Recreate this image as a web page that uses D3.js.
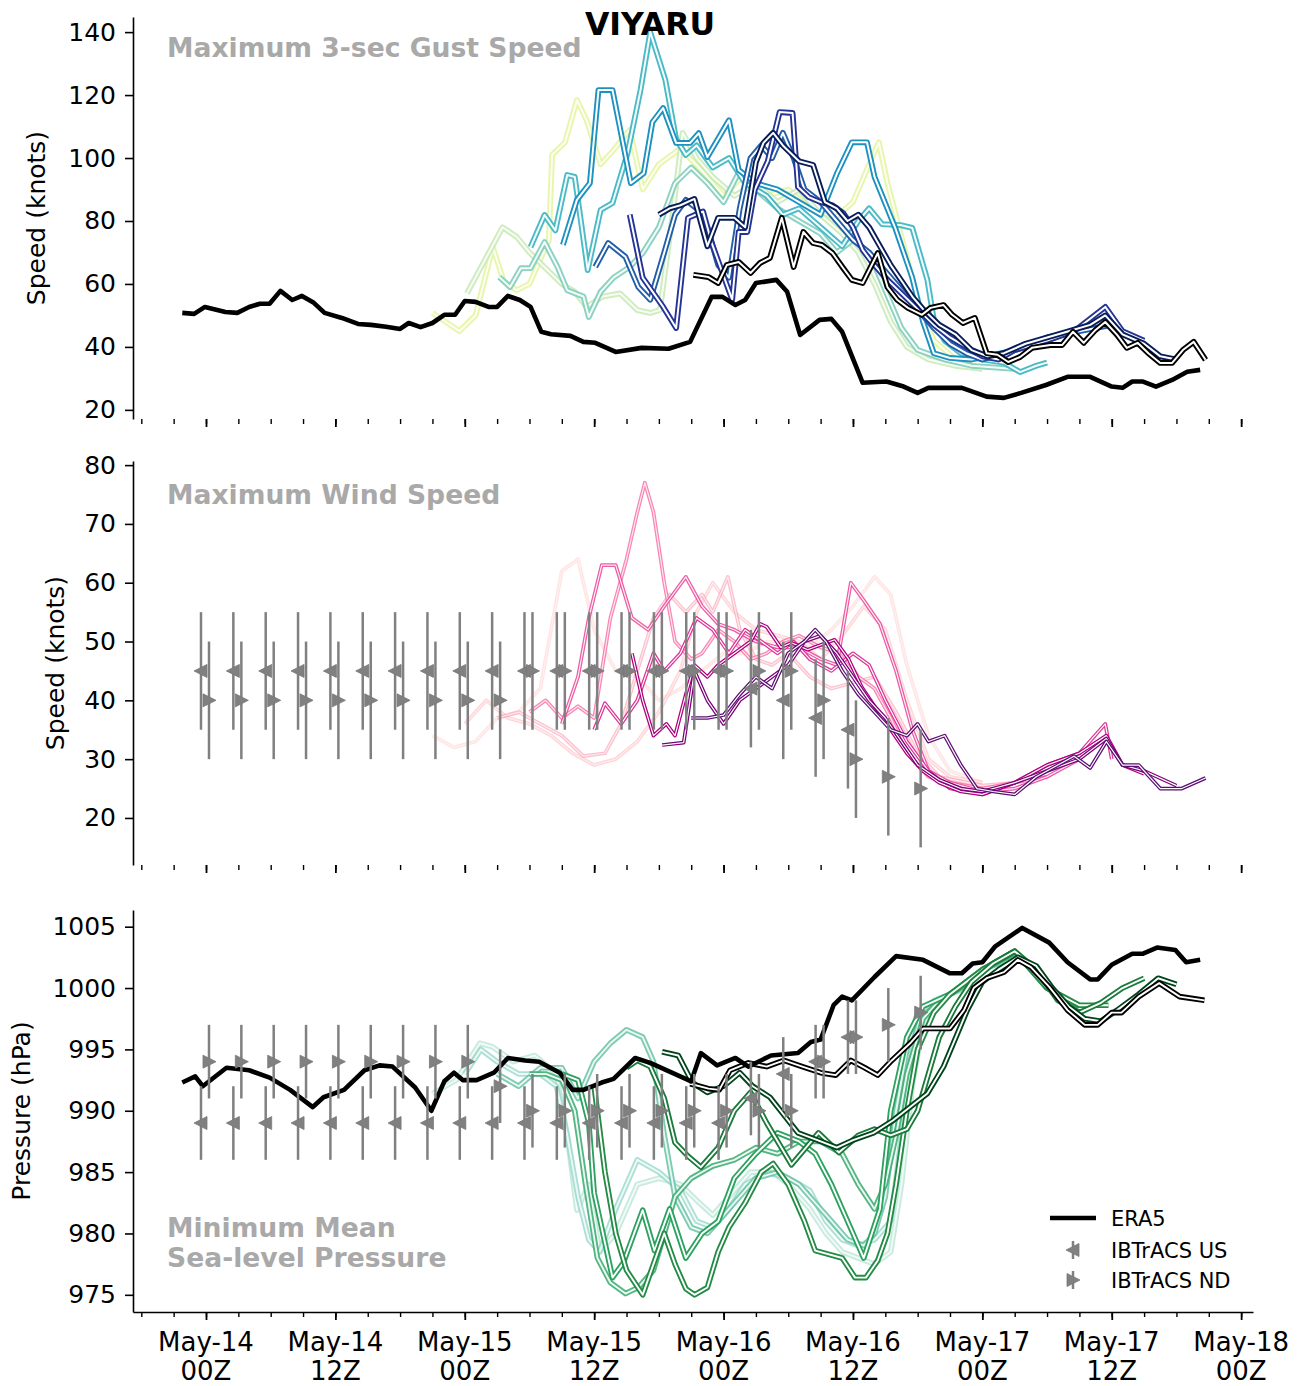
<!DOCTYPE html>
<html><head><meta charset="utf-8">
<script src="https://cdn.jsdelivr.net/npm/d3@7"></script>
<style>body{margin:0;background:#fff}svg{display:block}text{font-family:"DejaVu Sans",sans-serif}</style>
</head><body><svg id="c" width="1304" height="1386"></svg>
<script>
// ---------------- DATA (hours from May-14 00Z, value) ----------------
const gustEra5 = [[-2.2,50.8],[-1.1,50.5],[-0.1,52.7],[1.8,51.1],[2.9,50.8],[4,52.7],[5,53.7],[5.9,53.7],[6.9,57.8],[8,54.9],[8.9,56.2],[10,54],[11,50.8],[12.6,49.2],[14.1,47.3],[15.3,47],[16.7,46.4],[18,45.7],[18.8,47.6],[19.9,46.3],[21,47.6],[22.1,50.2],[23.1,50.2],[24,54.6],[25,54.3],[26.2,52.7],[27,52.7],[28,56.2],[29.1,54.9],[30.1,52.7],[31.1,44.8],[32,44],[33.8,43.5],[35,41.6],[36.1,41.3],[38,38.4],[40.4,39.7],[42.9,39.4],[44.9,41.6],[46.9,55.9],[47.9,55.9],[49.1,53.3],[50,54.9],[51,60.3],[52.9,61.3],[53.9,57.5],[55.1,43.8],[56.9,48.6],[58,48.9],[59,44.8],[60.9,28.6],[63.1,29],[64.7,27.4],[66,25.4],[67,27],[70.1,27],[72.4,24.2],[74,23.8],[75.6,25.4],[77.9,27.9],[79.9,30.5],[82,30.5],[84,27.4],[85,27],[85.9,29],[86.9,29],[88.1,27.4],[89.6,29.5],[91,32.1],[92.2,32.7]];

const presEra5 = [[-2.2,992.3],[-1,992.8],[-0.3,992],[1.9,993.5],[4,993.3],[5.9,992.7],[7.8,991.7],[9.9,990.3],[10.9,991.1],[12.8,991.7],[14.7,993.3],[16.1,993.7],[17.3,993.6],[19.4,991.9],[20.9,990],[22.1,992.4],[23,993.1],[23.8,992.5],[25.1,992.5],[26.7,993.1],[28,994.3],[29.6,994.1],[30.9,994],[32.8,993.1],[34,991.7],[35,991.7],[36.7,992.3],[37.8,992.6],[39.8,994.3],[41.2,993.9],[45,992.4],[45.9,994.7],[47.4,993.7],[49.1,994.3],[50.3,993.6],[52.4,994.5],[54.9,994.7],[56.1,995.6],[57,995.8],[58.2,998.6],[59,999.3],[59.9,999],[62,1000.9],[64,1002.6],[66.5,1002.3],[69,1001.2],[70.1,1001.2],[71.1,1002],[72,1002.1],[73.2,1003.4],[75.7,1004.9],[78.2,1003.7],[79.9,1002.1],[82,1000.7],[82.7,1000.7],[84,1001.9],[85.9,1002.8],[86.9,1002.8],[88.2,1003.3],[89.9,1003.1],[90.9,1002.1],[92.2,1002.3]];

const gustMembers = [
 [[21,50.8],[23.5,45],[25,50],[26.6,71.7],[27.6,61],[28.8,58],[30,60],[31.8,74],[32.1,101],[33.3,105],[34.4,118.4],[35.3,112],[36.6,98],[37.8,102.5],[39.3,109],[40.5,90],[42,98],[44,103],[46,96],[48,88],[50,95],[52,88],[54,90],[56,84],[58,80],[60,86],[61.5,98],[62.4,105],[63.2,92],[64.5,75],[66,55],[67.5,42],[69.5,36],[72,33]],
 [[24.2,57],[27.5,78],[28.8,75],[30,70],[31.5,65],[33,60],[34.2,57.5],[35.3,52.7],[36.8,56],[38.4,57],[40,51.7],[41.2,50.8],[42.1,51.7],[43.2,80],[44.2,108],[45.5,100],[47,94],[49,88],[51,92],[53,86],[55,90],[57,82],[59,76],[60.5,70],[62,60],[63.5,48],[65,40],[67,36],[69.5,34],[72,33]],
 [[27.2,62.2],[28.2,59],[29.2,65],[30.1,65],[31.4,73.3],[32.6,65.4],[33.5,58],[35,56],[35.5,49.5],[36.6,57.5],[37.8,62],[39.3,65.4],[40.5,69.8],[42,78],[43.5,92],[45,97],[46.5,92],[48,86],[49.5,96],[51,90],[53,84],[55,80],[57,76],[58.5,70],[60,74],[61.5,70],[63,58],[64.5,46],[66,39],[68.5,36],[71,34],[75,33]],
 [[30.1,71.7],[31.4,81.9],[32.4,77],[33.5,94.6],[34.2,94],[35.4,64.4],[36.6,83.5],[37.7,85.7],[39.1,101.6],[40.3,121.6],[41.2,140],[42.6,124.8],[43.6,106],[44.5,101],[45.5,104],[47,97],[48.5,100],[50,92],[52,88],[53.5,82],[55,84],[57,78],[59,72],[60.5,80],[61.5,84],[62.7,79],[64.4,78.7],[65.5,77.8],[66.9,61.3],[67.5,48.6],[68.5,42],[70,38],[72,36],[74,35],[75.5,32],[77,34],[78,35]],
 [[33.1,72.4],[34.4,86.7],[35.6,92],[36.4,121.6],[37.7,121.6],[39.4,92],[40.6,95.2],[41.4,111.4],[42.4,115.9],[43.6,104.8],[44.9,104.8],[45.7,107.9],[46.5,100.3],[48.5,112],[49.4,96.2],[51,92],[53,90],[55,86],[57,82],[58.5,95],[59.9,105],[61.3,105],[62,94],[63.9,78],[65.5,62],[66.5,48],[67.5,38],[69,36.5],[71,36],[72.5,37],[75,39],[78,42],[81,46]],
 [[36.1,65.4],[37.3,73],[38.9,68.6],[40.1,59],[41.2,55],[42.5,70],[43.5,82],[44.5,86.7],[45.5,84],[46.5,78],[47.5,66],[48.5,62],[49.5,84],[50.5,100],[51.5,104],[52.5,100],[53.5,108],[54.5,100],[55.5,90],[57,86],[58.5,80],[60,74],[61.5,70],[63,64],[64.5,58],[66,52],[67.5,46],[69,41],[70.5,38],[72,36],[75,39],[78,43],[81,45],[84,47]],
 [[39.3,82],[40.5,62],[42.4,52.7],[43.6,46],[44.7,81],[46.1,83],[46.9,73],[48.8,55],[49.4,76.5],[50.2,76.5],[50.9,90],[52.1,99],[53.2,114.6],[54.4,114.3],[54.9,90.8],[55.9,87.6],[57,86],[58.1,85],[59.1,82.5],[60,78],[60.9,70.8],[61.6,67.6],[63,62],[64.5,57],[66,52],[67.5,47],[69,43],[70.5,40],[72,37],[73.5,36],[75,39],[78,42],[80.5,45],[83.4,52.7],[85,45],[87,42]],
 [[42,82],[43,84],[44,85],[45.3,87],[46.5,72],[47.5,81],[49,81],[50,78],[51,98.7],[51.7,104.8],[52.6,108],[53.5,104],[55,99],[56.3,97.8],[57.4,86],[58.5,84],[59.5,80],[60.5,82],[61.5,78],[62.5,72],[63.5,66],[64.5,61],[65.5,56],[66.5,52],[68,47],[69.5,44],[71,39],[72.5,37],[74,38],[76,41],[78,43],[80,45],[82,47],[83.4,50],[85,44],[87,41],[88.5,37],[90,36]],
 [[45.2,62.9],[46.6,62.2],[47.5,60.3],[48.3,66],[49.4,67],[50.5,63.5],[51.4,66.7],[52.3,68.3],[53.4,81],[54.5,65.4],[55.4,76.5],[56.3,73],[57.1,72.4],[58.1,69.8],[59.1,65],[59.9,61.3],[60.9,60.3],[62.3,69.8],[63.2,59],[64.1,55],[65.1,52.4],[66.4,50.2],[67.2,52.4],[68.4,53.3],[69.2,50.2],[70.2,47.6],[71.3,49.2],[72.4,38],[73.4,37.5],[74.4,35.2],[75.5,36.8],[76.6,39.7],[78.3,40.6],[79.4,40.6],[80.4,44.8],[81.4,41.3],[82.5,45.4],[83.4,47.9],[84.5,43.8],[85.4,39.7],[86.4,41.3],[87.4,38],[88.5,34.9],[89.6,34.9],[90.6,39],[91.6,41.6],[92.7,35.9]]
];

const windMembers = [
 [[21,34],[23,32],[25,33],[27,37],[29,38],[31,42],[33,62],[34.5,64],[36,52],[38,45],[40,44],[42,40],[44,42],[46,45],[48,48],[50,48],[52,50],[54,50],[56,49],[58,52],[60,56],[62,61],[63.5,58],[65,46],[67,34],[69,28],[72,26]],
 [[24,36],[26,40],[28,37],[30,36],[32,34],[34,31],[36,29],[38,30],[40,33],[42,38],[44,45],[45.5,55],[47,60],[49,55],[51,52],[53,51],[55,50],[57,47],[59,51],[61,56],[63,52],[65,40],[67,30],[69,27],[72,26]],
 [[27,37],[29,38],[31,36],[33,34],[35,30.5],[37,31],[38.5,36],[40,45],[41.5,54],[43,58],[44.5,55],[46,58],[47,55],[48.4,61],[49.5,52],[51,47],[52.5,46],[54,48],[56,44],[58,42],[60,43],[62,44],[64,38],[66,31],[68,27],[72,25.5],[75,26]],
 [[30,38],[31.5,40],[33,37],[34.5,39],[36,37],[37.5,54],[39,64],[40,72],[40.7,77],[41.5,72],[42.5,60],[43.5,50],[45,47],[46,48],[47.5,52],[49,50],[50.5,47],[52,48],[53.5,50],[55,51],[57,49],[59,48],[60.5,44],[62,42],[63.5,37],[65,31],[67,27],[69,26],[72,25],[75,26],[78,27]],
 [[33,36],[34.5,44],[35.5,54],[36.7,63],[38,63],[39.5,54],[41,52],[42.5,56],[44.5,61],[46,56],[47.5,53],[49,52],[51,50],[53,49],[55,49],[57,47],[58.5,46],[59.8,60],[61,57],[62.5,53],[64,45],[65.5,35],[67,28],[69,26],[72,24.5],[75,25],[78,27],[81,30]],
 [[36,35],[37,39.5],[38.5,36],[40,40],[41.5,48],[42.5,45],[44,48],[45.5,54],[47,52],[48.5,48],[50,52],[51.5,50],[53,48],[54.5,50],[56,47],[58,45],[60,48],[61.5,46],[63,40],[65,33],[67,28],[69,25],[72,24],[75,26],[78,29],[81,31],[83.4,36],[84,30]],
 [[39.5,48],[40.5,40],[41.5,34],[42.7,36],[43.5,34],[44.5,41],[45.3,46],[46.5,44],[47.5,46],[49,48],[50.5,50],[51.4,53],[52,52.5],[53.3,49],[54.3,49.8],[55.8,48.6],[58.3,50.3],[59.6,47],[60.8,42.3],[62,39],[63.5,35],[65,31],[66.5,28],[68,26],[70,24.5],[72,24],[75,26],[78,29],[81,31],[83.5,34],[85,29],[87,27.5]],
 [[42.3,32.4],[44.3,32.8],[45.3,45],[46.5,40],[48,36],[49.5,40],[51,42],[52.5,44],[54,46],[55.5,50],[57,51],[58.5,48],[60,44],[61.5,40],[63,37],[64.5,33],[66,29],[68,26.5],[70,25],[72,24.5],[75,26],[78,28],[81,30],[83.5,33.5],[85,29],[87,28],[90,25.5]],
 [[45,37],[46.5,37],[48,37.5],[49.5,41],[51,44],[52.5,42],[54,48],[55.5,50],[56.5,52],[57.5,50],[59,45],[60.5,41],[62,38],[63.5,35],[65,34],[66,36],[67,33],[68.5,34],[70,29],[71.5,25],[73,24.5],[75,24],[77,27],[79,29],[80.5,30.5],[82,28.5],[83.5,33],[85,29],[86.5,29],[88.5,25],[90.5,25],[92.7,26.8]]
];

const presMembers = [
 [[21,991.4],[23.2,992.5],[25.4,995.5],[26.6,995.2],[28.5,994],[30.5,994.5],[32.5,993],[33.5,988],[34.4,981.9],[35.5,984],[36.5,978.5],[38,980],[40,984],[42,984.5],[44,984],[45.5,982.7],[47,981.5],[48.5,983],[50.5,985],[52.5,985],[54,984],[56,982],[57.5,980],[59,978.5],[60.5,978],[62,977.5],[63.5,978.5],[64.5,984],[65.5,992],[66.5,997],[67.5,999],[69,999.5]],
 [[24,993],[25.5,995],[27,994],[29,993],[31,993],[32.5,992],[33.5,988],[34.5,983],[35.5,979.5],[36.5,978.5],[38,982],[40,986],[42,985],[44,983.5],[45.5,981],[47,980.5],[48.5,982],[50,984],[52,985],[54,984.5],[56,983.5],[57.5,981],[59,979.5],[60.5,979],[62,979.5],[63.5,981],[64.5,988],[65.5,995],[66.5,998.5],[69,999.5],[72,1000.5]],
 [[27,993],[29,992],[31,993.5],[33,993.5],[34.5,991],[36,994],[37.5,995.5],[39,996.6],[40.5,996],[41.5,994],[42.5,988],[43.5,983],[45,980.5],[46.5,980],[48,981.5],[49.5,983],[51,984.5],[53,985],[55,984],[56.5,982.5],[58,981],[59.5,979.5],[61,979],[62,980],[63,983],[64,990],[65,995],[66,998],[69,999.5],[72,1001.5],[75,1002.5]],
 [[30,993],[31.5,993],[33,992.5],[34.2,990],[35.2,984],[36.3,978],[37.5,976],[38.9,975.1],[40.1,975.6],[41.5,977],[42.5,980],[43.5,983],[45,984.5],[47,985.5],[49,986],[51,987],[53,986.5],[55,987.5],[57,987.5],[59,986.5],[60.5,984],[62,982],[63,984],[64,988],[65,993],[66.5,997.5],[68,999],[70,1000],[72,1001.5],[75,1002.8],[77,1001.5],[78,1000.5]],
 [[33,993],[34.5,992.5],[35.5,989],[36,983.3],[37.7,976.4],[38.7,977.6],[40.5,981.9],[41.6,978.6],[43,982],[44.5,978],[46,980],[47.5,981],[49,984.5],[51,986.5],[53,988.2],[55,987.5],[56.5,986.5],[58,984],[59.5,981],[61,978],[62.5,982],[63.5,990],[65,996],[66.5,998.5],[69,999.5],[72,1001.5],[75,1003],[78,1000],[81,998.5]],
 [[36,992],[37,985],[38,980],[39,977],[40.5,975],[41.5,977.5],[42.5,980],[43.5,977.5],[44.5,975.5],[45.3,975],[46.5,975.6],[47.5,978.5],[48.5,980.5],[50,982.5],[51.5,985],[52.6,985.7],[54,984],[55.5,981],[56.5,978.6],[59,978],[60.2,976.4],[61.2,976.4],[62.3,977.8],[63.2,980],[64,984],[65,990],[66,995],[67.5,998],[69,999.5],[72,1001.5],[75,1003],[78,1000],[81,998.6],[83.7,998.6]],
 [[39,993.5],[40,994.1],[41.2,993.6],[42.5,991],[43.5,987.4],[44.7,986.3],[45.9,985.4],[47.5,987],[49,990],[50.5,991.5],[52,989],[54.3,985.6],[56.8,988.2],[58.7,986.6],[60.5,988],[62,988.5],[63.5,988],[65,988.5],[66,990],[67,993],[68,996],[69.5,998.5],[71,1000.5],[73,1002],[75,1003],[77,1001.5],[79,999],[81,998],[83,998.8],[85,1000],[87,1000.8]],
 [[42.3,994.8],[43.8,994.5],[45.1,992.3],[46.5,991.5],[48,992],[49.5,993.1],[50.7,992],[52.3,991.1],[54.9,988.2],[56.7,987.6],[58.5,987],[60,987.6],[61.9,988.2],[63.7,989.2],[65.3,990.3],[66.9,991.4],[68.4,993.6],[69.7,996.3],[70.6,998.2],[72,1000.5],[73.5,1001.5],[75.3,1002.5],[77,1001.8],[78.5,1000],[80,998.5],[81.5,997.5],[83,997.3],[84.5,998.2],[86.5,999.5],[88.3,1000.8],[90,1000.3]],
 [[44.9,992.2],[46.6,991.8],[47.6,991.7],[48.6,993.3],[50.3,993.9],[52,993.6],[53.6,994.1],[55.3,993.6],[57,993.1],[58.4,992.9],[59.8,994.1],[61.1,993.5],[62.3,992.9],[63.6,994.1],[65.3,995.5],[66.5,996.7],[69,996.7],[70.3,998.2],[71.2,1000],[72.4,1000.8],[74,1001.3],[75.3,1002.3],[76.5,1001.7],[78.2,1000.1],[79.9,998.2],[81.5,997],[82.7,997],[84,998],[84.9,998],[86.5,999.3],[88.4,1000.4],[90.3,999.3],[92.6,999]]
];

// IBTrACS (3-hourly)
const usHours = [0,3,6,9,12,15,18,21,24,27,30,33,36,39,42,45,48,51,54,57,60];
const usWind  = [45,45,45,45,45,45,45,45,45,45,45,45,45,45,45,45,45,42,40,37,35];
const usPres  = [989,989,989,989,989,989,989,989,989,989,989,989,989,989,989,989,989,991,993,994,996];
const ndHours = [0,3,6,9,12,15,18,21,24,27,30,33,36,39,42,45,48,51,54,57,60,63,66];
const ndWind  = [40,40,40,40,40,40,40,40,40,40,45,45,45,45,45,45,45,45,45,40,30,27,25];
const ndPres  = [994,994,994,994,994,994,994,994,994,992,990,990,990,990,990,990,990,990,990,994,996,997,998];
const windErr = 10, presErr = 3;

const gustTicks = [20,40,60,80,100,120,140];
const windTicks = [20,30,40,50,60,70,80];
const presTicks = [975,980,985,990,995,1000,1005];

// ---------------- STYLE ----------------
const gustColors = ['#e3f49e','#c7e9b4','#7fcdbb','#41b6c4','#1d91c0','#225ea8','#253494','#081d58','#000000'];
const gustAlpha  = [0.85,0.85,0.9,0.95,1,1,1,1,1];
const windColors = ['#fcc5c0','#fbb4b9','#fa9fb5','#f768a1','#ea4a9b','#dd3497','#ae017e','#7a0177','#5c0f73'];
const windAlpha  = [0.45,0.55,0.65,0.8,0.9,1,1,1,1];
const presColors = ['#b7e4d4','#99d8c9','#66c2a4','#41ae76','#2ca25f','#238b45','#1a7a3a','#00441b','#000000'];
const presAlpha  = [0.75,0.8,0.85,0.9,1,1,1,1,1];
const GRAY = '#808080';

const BASE = Date.UTC(2016,4,14,0);
const toDate = h => new Date(BASE + h*3600e3);
const svg = d3.select('#c');
const x = d3.scaleUtc().domain([toDate(-6.77), toDate(97.1)]).range([133,1253]);

const panels = [
  {y:d3.scaleLinear().domain([17.1,144.8]).range([419,17]), ticks:gustTicks, label:'Speed (knots)', lx:45,
   members:gustMembers, colors:gustColors, alpha:gustAlpha, w:5.8, wi:2.0, era:gustEra5},
  {y:d3.scaleLinear().domain([12,80.7]).range([865,461]), ticks:windTicks, label:'Speed (knots)', lx:64,
   members:windMembers, colors:windColors, alpha:windAlpha, w:3.7, wi:1.2, era:null,
   ib:{us:usWind, nd:ndWind, err:windErr}},
  {y:d3.scaleLinear().domain([973.6,1006.36]).range([1312,910]), ticks:presTicks, label:'Pressure (hPa)', lx:30,
   members:presMembers, colors:presColors, alpha:presAlpha, w:5.6, wi:1.9, era:presEra5,
   ib:{us:usPres, nd:ndPres, err:presErr}}
];

const usPath = 'M-7,0L6,-6.5L6,6.5Z';
const ndPath = 'M7,0L-6,-6.5L-6,6.5Z';

panels.forEach((p, pi) => {
  const g = svg.append('g');
  const line = d3.line().x(d => x(toDate(d[0]))).y(d => p.y(d[1]));
  p.members.forEach((m, i) => {
    g.append('path').attr('d', line(m)).attr('fill','none').attr('stroke', p.colors[i])
      .attr('stroke-width', p.w).attr('stroke-linejoin','round').attr('opacity', p.alpha[i]);
    g.append('path').attr('d', line(m)).attr('fill','none').attr('stroke', '#fff')
      .attr('stroke-width', p.wi).attr('stroke-linejoin','round').attr('opacity', p.alpha[i]);
  });
  if (p.era) {
    g.append('path').attr('d', line(p.era)).attr('fill','none').attr('stroke','#000')
      .attr('stroke-width',4.6).attr('stroke-linejoin','round');
  }
  if (p.ib) {
    const drawIb = (hours, vals, off, shape) => {
      hours.forEach((h, i) => {
        const cx = x(toDate(h)) + off;
        g.append('line').attr('x1',cx).attr('x2',cx)
          .attr('y1', p.y(vals[i] - p.ib.err)).attr('y2', p.y(vals[i] + p.ib.err))
          .attr('stroke', GRAY).attr('stroke-width',2.5);
        g.append('path').attr('d', shape).attr('transform',`translate(${cx},${p.y(vals[i])})`)
          .attr('fill', GRAY).attr('stroke','#777').attr('stroke-width',0.8);
      });
    };
    drawIb(usHours, p.ib.us, -5, usPath);
    drawIb(ndHours, p.ib.nd, 3, ndPath);
  }
  const ya = svg.append('g').attr('transform','translate(133,0)')
    .call(d3.axisLeft(p.y).tickValues(p.ticks).tickFormat(d3.format('d')).tickSize(8).tickPadding(9).tickSizeOuter(0));
  ya.attr('font-family','DejaVu Sans').attr('font-size',25);
  ya.selectAll('path.domain').attr('stroke','#000').attr('stroke-width',1.6);
  ya.selectAll('.tick line').attr('stroke','#000').attr('stroke-width',1.6);
  ya.selectAll('.tick text').attr('fill','#000');
  const cy = (p.y.range()[0] + p.y.range()[1]) / 2;
  svg.append('text').attr('transform',`translate(${p.lx},${cy}) rotate(-90)`)
    .attr('text-anchor','middle').attr('font-size',25).attr('fill','#000').text(p.label);
  const ax = p.y.range()[0];
  const minor = svg.append('g').attr('transform',`translate(0,${ax})`)
    .call(d3.axisBottom(x).ticks(d3.utcHour.every(3)).tickSize(5).tickFormat('').tickSizeOuter(0));
  minor.select('path.domain').attr('stroke', pi === 2 ? '#000' : 'none').attr('stroke-width',1.6);
  minor.selectAll('.tick line').attr('stroke','#000').attr('stroke-width',1.4);
  const major = svg.append('g').attr('transform',`translate(0,${ax})`)
    .call(d3.axisBottom(x).ticks(d3.utcHour.every(12)).tickSize(8).tickFormat('').tickSizeOuter(0));
  major.select('path.domain').remove();
  major.selectAll('.tick line').attr('stroke','#000').attr('stroke-width',1.8);
  if (pi === 2) {
    const fmtD = d3.utcFormat('%b-%d'), fmtH = d3.utcFormat('%HZ');
    x.ticks(d3.utcHour.every(12)).forEach(d => {
      const t = svg.append('text').attr('text-anchor','middle').attr('font-size',26).attr('fill','#000');
      t.append('tspan').attr('x', x(d)).attr('y', 1351).text(fmtD(d));
      t.append('tspan').attr('x', x(d)).attr('y', 1380).text(fmtH(d));
    });
  }
});

const lab = (txt, yy) => svg.append('text').attr('x',167).attr('y',yy).attr('font-size',26.6)
  .attr('font-weight','bold').attr('fill','#a9a9a9').text(txt);
lab('Maximum 3-sec Gust Speed', 57);
lab('Maximum Wind Speed', 504);
lab('Minimum Mean', 1237);
lab('Sea-level Pressure', 1267);

svg.append('text').attr('x',650).attr('y',35).attr('text-anchor','middle').attr('font-size',31.5)
  .attr('font-weight','bold').attr('fill','#000').text('VIYARU');

const lg = svg.append('g');
lg.append('line').attr('x1',1050).attr('x2',1096).attr('y1',1218).attr('y2',1218)
  .attr('stroke','#000').attr('stroke-width',4.6);
lg.append('text').attr('x',1111).attr('y',1226).attr('font-size',21).attr('fill','#000').text('ERA5');
[[1250, usPath, 'IBTrACS US'], [1280, ndPath, 'IBTrACS ND']].forEach(([yy, shp, txt]) => {
  lg.append('line').attr('x1',1073).attr('x2',1073).attr('y1',yy-9).attr('y2',yy+9)
    .attr('stroke',GRAY).attr('stroke-width',2.5);
  lg.append('path').attr('d',shp).attr('transform',`translate(1073,${yy})`)
    .attr('fill',GRAY).attr('stroke','#777').attr('stroke-width',0.8);
  lg.append('text').attr('x',1111).attr('y',yy+8).attr('font-size',21).attr('fill','#000').text(txt);
});
</script>
</body></html>
